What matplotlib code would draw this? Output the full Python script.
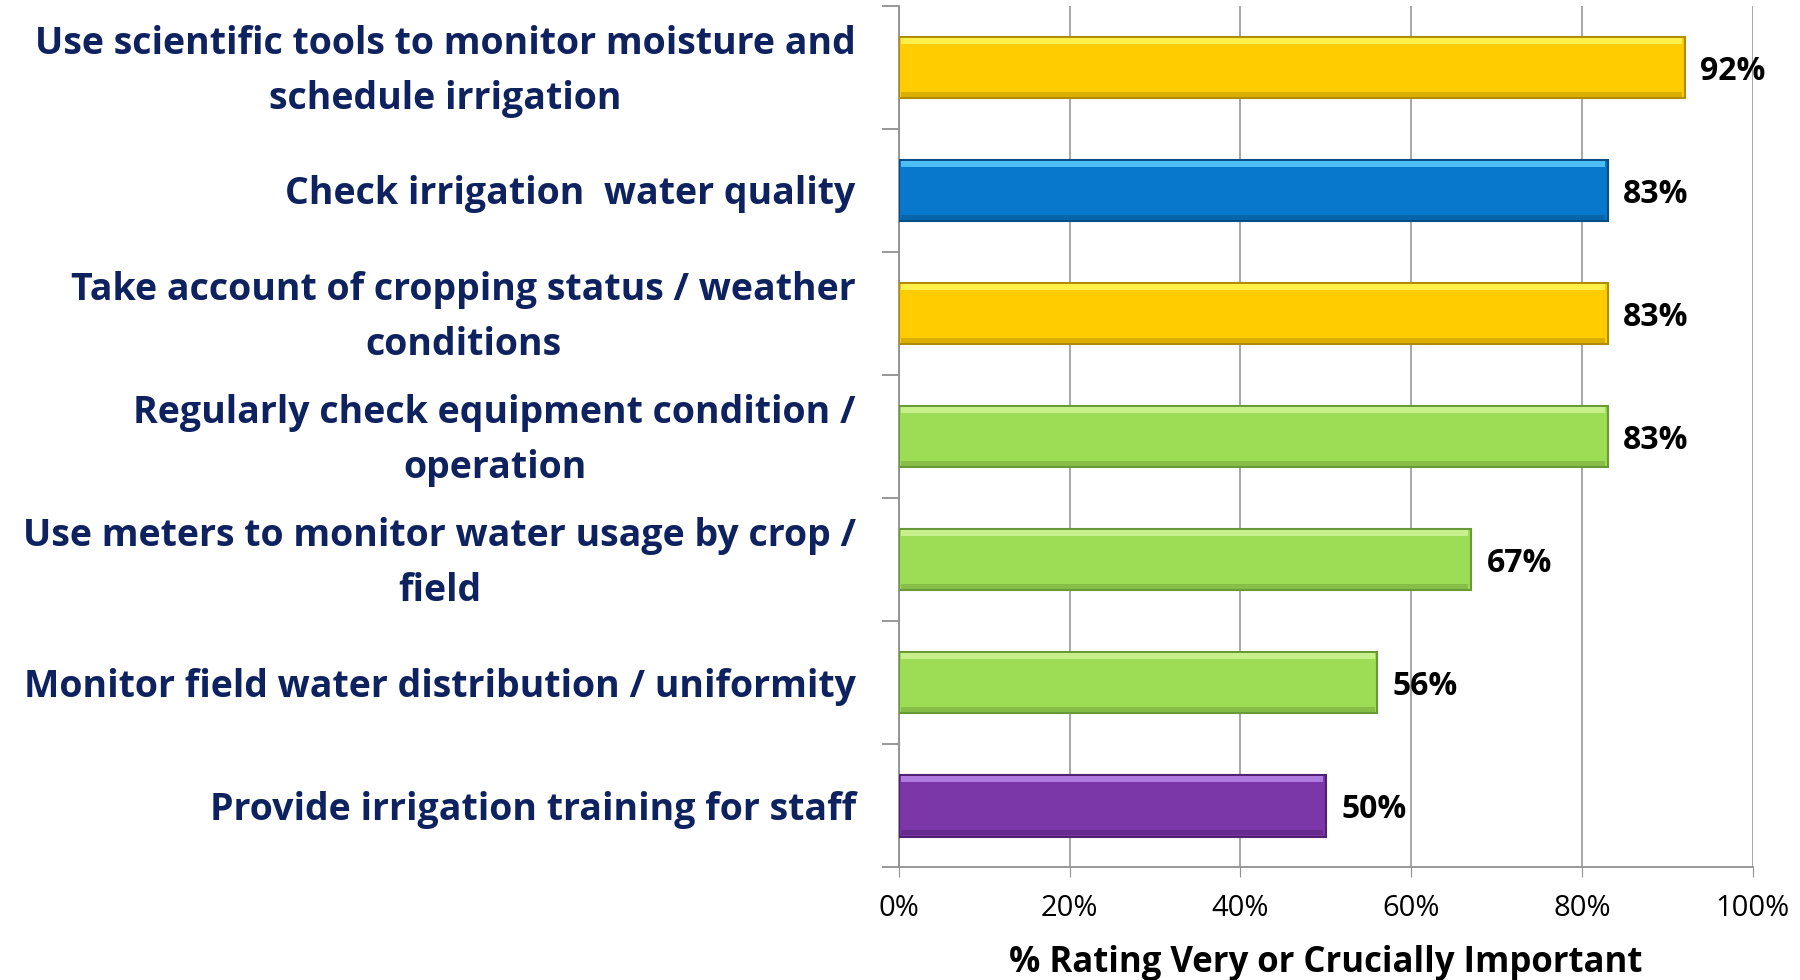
import numpy as np
import matplotlib
matplotlib.use("Agg")
from matplotlib import pyplot as plt
from matplotlib.ticker import FixedLocator, PercentFormatter
from matplotlib.transforms import ScaledTranslation

#%% data, top to bottom
labels = [
    "Use scientific tools to monitor moisture and\nschedule irrigation",
    "Check irrigation  water quality",
    "Take account of cropping status / weather\nconditions",
    "Regularly check equipment condition /\noperation",
    "Use meters to monitor water usage by crop /\nfield",
    "Monitor field water distribution / uniformity",
    "Provide irrigation training for staff",
]
values = [92, 83, 83, 83, 67, 56, 50]
colors = ["#FFCC00", "#0878CC", "#FFCC00", "#9DDD55", "#9DDD55", "#9DDD55", "#7B36A8"]
edges = ["#B08C00", "#064E86", "#B08C00", "#6A9A38", "#6A9A38", "#6A9A38", "#4E2270"]
tops = ["#FFF04A", "#4DBDF5", "#FFF04A", "#C7F08C", "#C7F08C", "#C7F08C", "#B07BE0"]
xticks = [0, 20, 40, 60, 80, 100]

plt.rcParams['font.family'] = ['Open Sans', 'DejaVu Sans']
navy = "#0E2260"

#%% figure
fig = plt.figure(figsize=(18, 9.8), dpi=100)
ax = fig.add_axes([0.4994, 0.115, 0.4744, 0.879])

y = np.arange(len(values))
h = 0.5
ax.barh(y, values, height=h, color=colors, edgecolor=edges, linewidth=1.5, zorder=3)
# bevel: light strip on top, darker strip at bottom
ax.barh(y - h/2 + 0.035, [v - 0.6 for v in values], left=0.3, height=0.05,
        color=tops, linewidth=0, zorder=4)
ax.barh(y + h/2 - 0.03, [v - 0.6 for v in values], left=0.3, height=0.04,
        color=edges, alpha=0.45, linewidth=0, zorder=4)

for yi, v in zip(y, values):
    ax.text(v + 1.8, yi, f"{v}%", va="center_baseline", ha="left", fontsize=23,
            fontweight="bold", color="black", zorder=5)

ax.set_xlim(0, 100)
ax.set_ylim(len(values) - 0.5, -0.5)
ax.set_xticks(xticks)
ax.xaxis.set_major_formatter(PercentFormatter(decimals=0))
ax.tick_params(axis="x", labelsize=21, length=7, color="#909090", pad=12)
ax.grid(axis="x", color="#A0A0A0", linewidth=1.3, zorder=0)

ax.set_yticks(y)
ax.set_yticklabels(labels, fontsize=27, fontweight="bold", color=navy,
                   multialignment="center", linespacing=1.6, va="center")
ax.tick_params(axis="y", length=0, pad=31)
shift = ScaledTranslation(0, -0.04, fig.dpi_scale_trans)
for lab in ax.get_yticklabels():
    lab.set_transform(lab.get_transform() + shift)
ax.yaxis.set_minor_locator(FixedLocator(np.arange(-0.5, len(values), 1.0)))
ax.tick_params(axis="y", which="minor", length=12, color="#909090", width=1.3)

for s in ["top", "right"]:
    ax.spines[s].set_visible(False)
for s in ["left", "bottom"]:
    ax.spines[s].set_color("#909090")
    ax.spines[s].set_linewidth(1.3)

ax.set_xlabel("% Rating Very or Crucially Important", fontsize=25,
              fontweight="bold", color="black", labelpad=16)

fig.savefig("out.png", dpi=100)
